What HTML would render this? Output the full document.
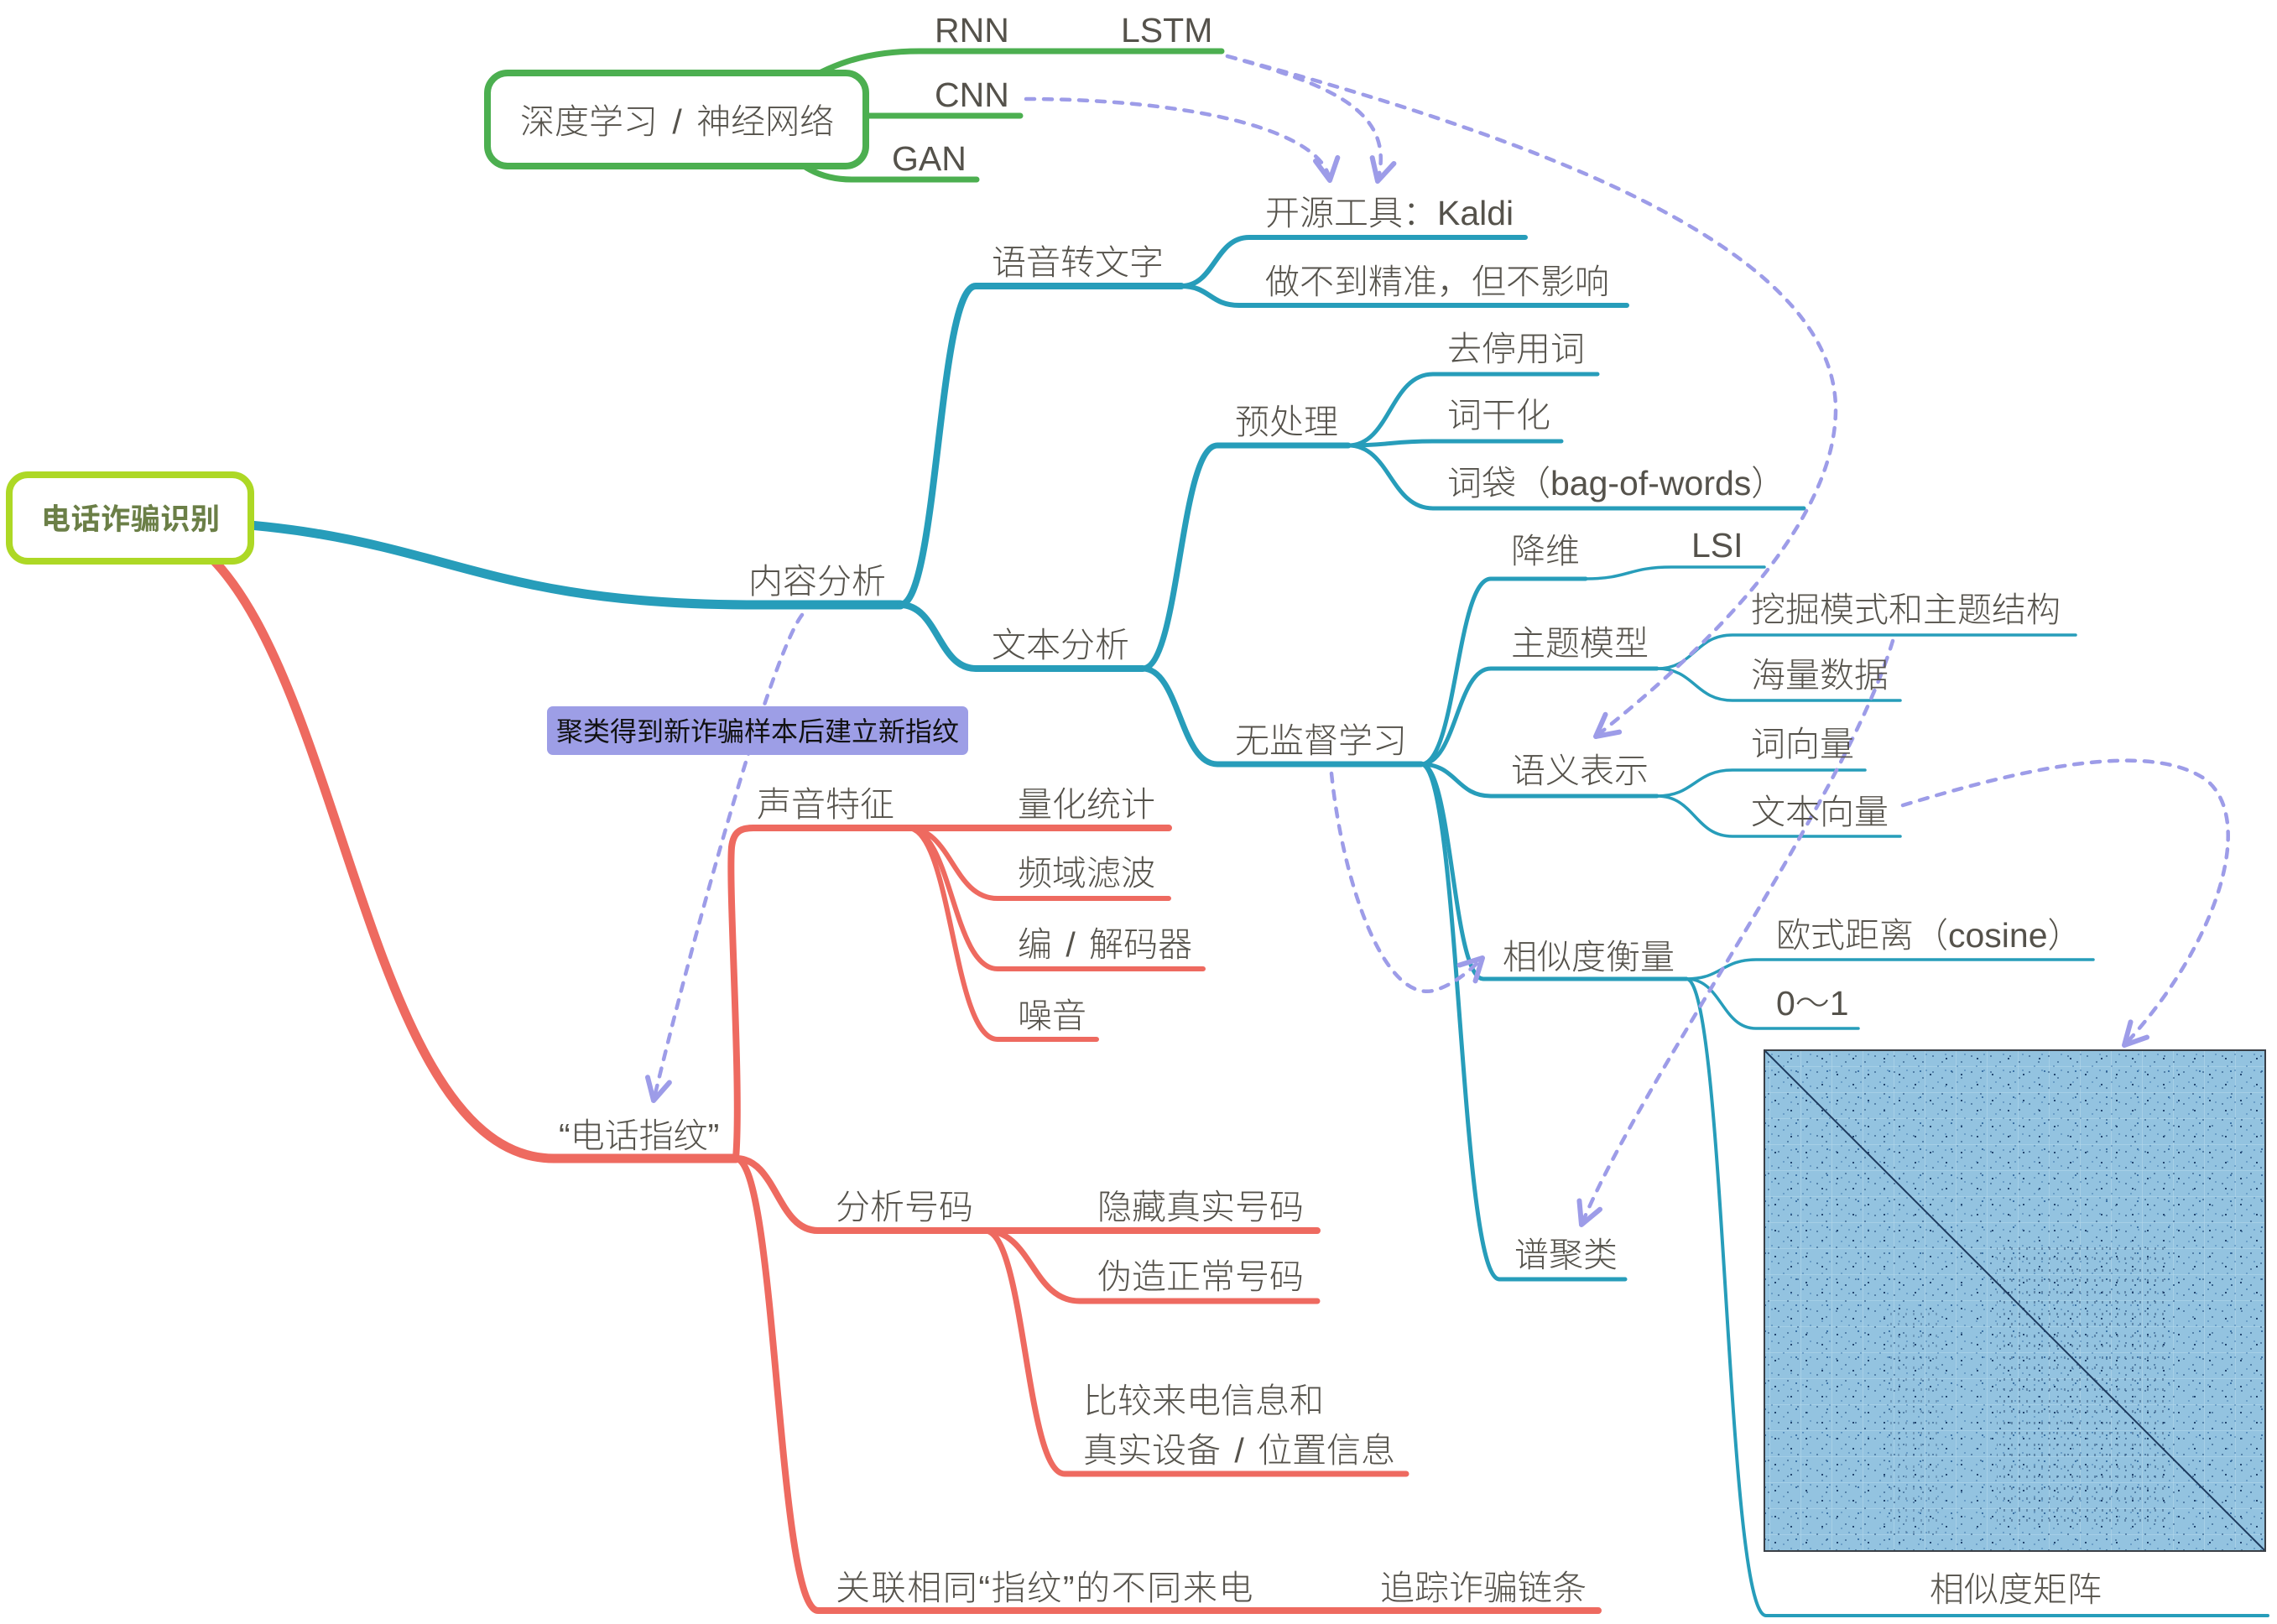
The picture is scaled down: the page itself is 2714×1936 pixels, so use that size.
<!DOCTYPE html>
<html>
<head>
<meta charset="utf-8">
<style>
html,body{margin:0;padding:0;background:#fff;}
svg{display:block;}
</style>
</head>
<body>
<svg xmlns="http://www.w3.org/2000/svg" width="2714" height="1936" viewBox="0 0 2714 1936">
<defs>
  <marker id="arr" markerUnits="userSpaceOnUse" markerWidth="40" markerHeight="40" viewBox="-25 -15 30 30" refX="0" refY="0" orient="auto">
    <path d="M-19,-10 L0,0 L-19,10" fill="none" stroke="#9d9ce8" stroke-width="4.5" stroke-linecap="round" stroke-linejoin="round"/>
  </marker>
  <pattern id="p1" width="23" height="19" patternUnits="userSpaceOnUse">
    <rect x="3" y="4" width="2" height="2" fill="#2a5583"/>
    <rect x="14" y="11" width="2" height="2" fill="#2a5583"/>
    <rect x="9" y="16" width="2" height="2" fill="#4f86b6"/>
    <rect x="18" y="2" width="2" height="2" fill="#4f86b6"/>
  </pattern>
  <pattern id="p2" width="37" height="31" patternUnits="userSpaceOnUse">
    <rect x="6" y="9" width="2" height="2" fill="#23466f"/>
    <rect x="25" y="21" width="2" height="2" fill="#23466f"/>
    <rect x="31" y="5" width="2" height="2" fill="#3e74a6"/>
    <rect x="0" y="0" width="1" height="31" fill="#b3d7ea" opacity="0.6"/>
    <rect x="0" y="0" width="37" height="1" fill="#b3d7ea" opacity="0.6"/>
  </pattern>
  <pattern id="p3" width="9" height="26" patternUnits="userSpaceOnUse">
    <rect x="3" y="5" width="2" height="3" fill="#1f3f68"/>
    <rect x="3" y="17" width="2" height="3" fill="#1f3f68"/>
  </pattern>
</defs>

<!-- BLUE branch lines -->
<g fill="none" stroke="#279dba" stroke-linecap="round" stroke-linejoin="round">
  <path d="M155,620 C527,620 527,721 900,721 H1073" stroke-width="11"/>
  <path d="M1073,721 C1118,721 1118,341 1163,341 H1408" stroke-width="8"/>
  <path d="M1073,721 C1118,721 1118,797 1163,797 H1362" stroke-width="8"/>
  <path d="M1408,341 C1448,341 1448,283 1489,283 H1818" stroke-width="6"/>
  <path d="M1408,341 C1442,341 1442,364 1477,364 H1939" stroke-width="6"/>
  <path d="M1362,797 C1406,797 1406,531 1451,531 H1607" stroke-width="7"/>
  <path d="M1362,797 C1406,797 1406,911 1451,911 H1694" stroke-width="7"/>
  <path d="M1607,531 C1657,531 1657,446 1708,446 H1904" stroke-width="5"/>
  <path d="M1607,531 C1657,531 1657,526 1708,526 H1861" stroke-width="5"/>
  <path d="M1607,531 C1657,531 1657,606 1708,606 H2150" stroke-width="5"/>
  <path d="M1694,911 C1736,911 1736,690 1777,690 H1890" stroke-width="5"/>
  <path d="M1890,690 C1941,690 1941,676 1992,676 H2103" stroke-width="3.5"/>
  <path d="M1694,911 C1736,911 1736,797 1777,797 H1975" stroke-width="5"/>
  <path d="M1975,797 C2020,797 2020,757 2065,757 H2474" stroke-width="3.5"/>
  <path d="M1975,797 C2020,797 2020,835 2065,835 H2265" stroke-width="3.5"/>
  <path d="M1694,911 C1736,911 1736,949 1777,949 H1975" stroke-width="5"/>
  <path d="M1975,949 C2020,949 2020,918 2065,918 H2223" stroke-width="3.5"/>
  <path d="M1975,949 C2020,949 2020,997 2065,997 H2265" stroke-width="3.5"/>
  <path d="M1694,911 C1731,911 1731,1167 1768,1167 H2010" stroke-width="5"/>
  <path d="M1694,911 C1740,911 1740,1525 1787,1525 H1937" stroke-width="5"/>
  <path d="M2010,1167 C2052,1167 2052,1144 2093,1144 H2495" stroke-width="3.5"/>
  <path d="M2010,1167 C2052,1167 2052,1226 2093,1226 H2215" stroke-width="3.5"/>
  <path d="M2010,1167 C2057,1167 2057,1926 2105,1926 H2703" stroke-width="4"/>
</g>

<!-- RED branch lines -->
<g fill="none" stroke="#ee6a60" stroke-linecap="round" stroke-linejoin="round">
  <path d="M155,620 C407,620 407,1381 660,1381 H877" stroke-width="11"/>
  <path d="M877,1381 C884,1300 868,1060 872,1010 C874,992 882,987 898,987 H1393" stroke-width="8"/>
  <path d="M1082,987 C1135,987 1135,1071 1189,1071 H1393" stroke-width="6"/>
  <path d="M1082,987 C1135,987 1135,1155 1189,1155 H1434" stroke-width="6"/>
  <path d="M1082,987 C1135,987 1135,1239 1189,1239 H1307" stroke-width="6"/>
  <path d="M877,1381 C926,1381 926,1467 975,1467 H1570" stroke-width="8"/>
  <path d="M1174,1467 C1230,1467 1230,1551 1287,1551 H1570" stroke-width="7"/>
  <path d="M1174,1467 C1222,1467 1222,1757 1269,1757 H1676" stroke-width="7"/>
  <path d="M877,1381 C926,1381 926,1920 975,1920 H1905" stroke-width="8"/>
</g>

<!-- GREEN branch lines -->
<g fill="none" stroke="#4caf50" stroke-linecap="round" stroke-linejoin="round" stroke-width="7">
  <path d="M806,140 C951,140 951,61 1096,61 H1456"/>
  <path d="M806,138 H1216"/>
  <path d="M850,140 C932,140 932,214 1015,214 H1164"/>
</g>

<!-- Similarity matrix -->
<g>
  <rect x="2103" y="1252" width="597" height="597" fill="#93c3e0"/>
  <rect x="2103" y="1252" width="597" height="597" fill="url(#p2)"/>
  <rect x="2103" y="1252" width="597" height="597" fill="url(#p1)" opacity="0.6"/>
  <rect x="2380" y="1480" width="200" height="340" fill="url(#p3)" opacity="0.45"/>
  <rect x="2250" y="1560" width="60" height="270" fill="url(#p3)" opacity="0.3"/>
  <rect x="2120" y="1530" width="560" height="8" fill="url(#p1)" opacity="0.7"/>
  <rect x="2120" y="1700" width="560" height="8" fill="url(#p1)" opacity="0.7"/>
  <line x1="2104" y1="1253" x2="2699" y2="1848" stroke="#1d3a5e" stroke-width="2"/>
  <rect x="2103" y="1252" width="597" height="597" fill="none" stroke="#3a3f46" stroke-width="2"/>
</g>

<!-- Dashed connectors -->
<g fill="none" stroke="#9d9ce8" stroke-width="4.5" stroke-linecap="round" stroke-dasharray="10 11">
  <path d="M1223,118 C1400,118 1575,150 1585,215" marker-end="url(#arr)"/>
  <path d="M1463,67 C1580,100 1665,130 1642,216" marker-end="url(#arr)"/>
  <path d="M1463,67 C1850,170 2190,300 2188,490 C2186,640 2000,800 1902,878" marker-end="url(#arr)"/>
  <path d="M2256,764 C2200,950 1960,1280 1885,1460" marker-end="url(#arr)"/>
  <path d="M2268,960 C2400,920 2560,880 2630,930 C2690,980 2640,1130 2532,1246" marker-end="url(#arr)"/>
  <path d="M1587,922 C1600,1050 1650,1200 1712,1180 C1735,1172 1752,1157 1767,1142" marker-end="url(#arr)"/>
  <path d="M956,733 C920,780 830,1100 779,1312" marker-end="url(#arr)"/>
</g>

<!-- Root box -->
<rect x="11" y="566" width="288" height="103" rx="22" ry="22" fill="#fff" stroke="#add825" stroke-width="8"/>
<text x="49" y="631" font-family="'Liberation Sans','Noto Sans CJK SC',sans-serif" font-size="35" font-weight="bold" fill="#6b7f47" letter-spacing="0.6">电话诈骗识别</text>

<!-- Green box -->
<rect x="581" y="87" width="451" height="111" rx="24" ry="24" fill="#fff" stroke="#4caf50" stroke-width="8"/>

<!-- Label on connector -->
<rect x="652" y="842" width="502" height="58" rx="7" ry="7" fill="#9d9ee6"/>
<text x="663" y="883" font-family="'Liberation Sans','Noto Sans CJK SC',sans-serif" font-size="32" fill="#111">聚类得到新诈骗样本后建立新指纹</text>

<!-- Labels -->
<g font-family="'Liberation Sans','Noto Sans CJK SC',sans-serif" font-size="41" fill="#55524b" font-weight="300">
  <text x="620" y="159" word-spacing="6">深度学习 / 神经网络</text>
  <text x="1114" y="50">RNN</text>
  <text x="1336" y="50">LSTM</text>
  <text x="1114" y="127">CNN</text>
  <text x="1063" y="203">GAN</text>

  <text x="892" y="707">内容分析</text>
  <text x="1182" y="327">语音转文字</text>
  <text x="1508" y="268">开源工具：Kaldi</text>
  <text x="1508" y="350">做不到精准，但不影响</text>
  <text x="1182" y="783">文本分析</text>
  <text x="1472" y="517">预处理</text>
  <text x="1725" y="430">去停用词</text>
  <text x="1725" y="509">词干化</text>
  <text x="1725" y="590">词袋（bag-of-words）</text>
  <text x="1472" y="897">无监督学习</text>
  <text x="1801" y="671">降维</text>
  <text x="2016" y="664">LSI</text>
  <text x="1801" y="781">主题模型</text>
  <text x="2087" y="741">挖掘模式和主题结构</text>
  <text x="2087" y="819">海量数据</text>
  <text x="1801" y="933">语义表示</text>
  <text x="2087" y="901">词向量</text>
  <text x="2087" y="982">文本向量</text>
  <text x="1791" y="1155">相似度衡量</text>
  <text x="2117" y="1129">欧式距离（cosine）</text>
  <text x="2117" y="1210">0～1</text>
  <text x="1805" y="1510">谱聚类</text>
  <text x="2300" y="1909">相似度矩阵</text>

  <text x="666" y="1368">“电话指纹”</text>
  <text x="902" y="973">声音特征</text>
  <text x="1213" y="973">量化统计</text>
  <text x="1213" y="1055">频域滤波</text>
  <text x="1213" y="1140" word-spacing="5">编 / 解码器</text>
  <text x="1213" y="1225">噪音</text>
  <text x="996" y="1453">分析号码</text>
  <text x="1308" y="1453">隐藏真实号码</text>
  <text x="1308" y="1536">伪造正常号码</text>
  <text x="1291" y="1684">比较来电信息和</text>
  <text x="1291" y="1743" word-spacing="5">真实设备 / 位置信息</text>
  <text x="996" y="1907" letter-spacing="1.6">关联相同“指纹”的不同来电</text>
  <text x="1645" y="1907">追踪诈骗链条</text>
</g>
</svg>
</body>
</html>
